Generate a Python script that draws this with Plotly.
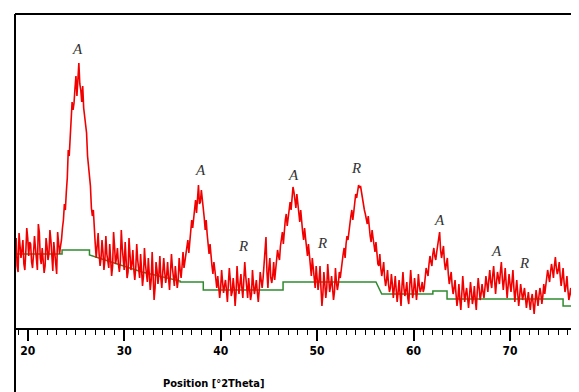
import plotly.graph_objects as go
import numpy as np

# XRD pattern (arbitrary intensity units), sampled every 0.1 deg 2Theta from 18.7
theta_start = 18.7
theta_step = 0.1
intensity = [
    82, 90, 62, 56, 95, 84, 70, 78, 88, 64, 58, 76, 100, 90, 72, 86, 84, 66, 60, 74, 92, 80, 66, 58, 104,
    96, 70, 64, 80, 68, 55, 62, 90, 82, 68, 74, 98, 88, 64, 57, 86, 76, 60, 54, 96, 86, 74, 82, 88,
    100,
    108, 124, 118, 136, 150, 178, 172, 190, 205, 226, 218, 225, 240, 252, 232, 248, 265, 244, 238, 226,
    242, 220, 212, 204, 195, 172, 160, 150, 142, 120, 112, 118, 96,
    84,
    70, 80, 95, 74, 62, 70, 88, 76, 58, 68, 92, 74, 66, 60, 84, 72, 52, 62, 96, 82, 64, 70, 80, 64, 56,
    66, 98, 80, 62, 58, 86, 68, 50, 56, 90, 74, 58, 64, 78, 58, 48, 60, 84, 68, 55, 50, 74, 60, 42, 52,
    80, 64, 50, 46, 70, 56, 38, 48, 76, 52, 28, 40, 66, 58, 44, 54, 72, 50, 40,
    56,
    70, 56, 45, 52, 66, 50, 38, 56, 74, 60, 48, 42, 62, 54, 40, 48, 70, 58, 50, 62, 76,
    60,
    66, 72, 78, 88, 75, 84, 96, 108, 100, 110, 118, 128, 115, 132, 143, 124, 126, 138, 130, 118, 110,
    98, 108, 94, 86, 74, 84, 70, 62, 54, 66, 58, 45,
    40,
    52, 44, 30, 40, 58, 46, 35, 42, 48, 38, 26, 44, 60, 48, 32, 36, 50, 40, 22, 36, 62, 46, 34, 44, 54,
    40, 30, 48, 66, 52, 36, 30, 50, 42, 28, 34, 58, 44, 34, 40, 48, 36, 26, 38, 56, 48, 40,
    50,
    62, 78, 91, 56, 40, 60, 70, 50, 45, 52, 66,
    48,
    56, 64, 78, 72, 68, 82, 92, 96, 84, 98, 108, 114, 102, 110, 122, 126, 118, 130, 141, 136, 126, 120,
    134, 124, 112, 106, 118, 104, 96, 88, 100, 90, 78, 72, 84, 74, 60, 52, 70, 58, 46, 40, 62,
    50,
    38, 48, 62, 40, 22, 34, 56, 44, 30, 40, 64, 50, 36, 42, 52, 40, 28, 36, 60, 46, 38, 44, 56,
    50,
    60, 66, 74, 80, 70, 84, 92, 88, 98, 104, 112, 118, 108, 116, 124, 134, 130, 138, 143, 140, 142, 136,
    128, 122, 118, 114, 110, 104, 112, 100, 92, 86, 98, 90, 80, 76, 86, 70, 64, 62, 74, 60, 52, 58, 66,
    50, 42, 48, 58, 44, 36, 40, 54,
    44,
    30, 40, 52, 38, 26, 36, 48, 34, 22, 42, 56, 40, 32, 38, 46, 30, 24, 42, 58, 44, 30, 36, 50, 40, 28,
    38, 54, 42, 36, 40, 46,
    36,
    40, 50, 60, 56, 52, 64, 72, 66, 62, 74, 80, 72, 68, 76, 84, 88, 96, 78, 70, 76, 82, 66, 58, 64, 70,
    54, 44, 50, 56, 42, 34,
    40,
    48, 34, 22, 30, 44, 28, 18, 34, 52, 38, 26, 34, 40, 30, 20, 32, 46, 36, 24, 30, 42, 28, 18, 36, 50,
    40, 28, 34, 44, 36, 30, 40, 52,
    44,
    36, 48, 58, 46, 40, 52, 62, 48, 34, 46, 56, 50, 44, 56, 66, 50, 38, 48, 60, 44, 30, 42, 54, 44, 36,
    46, 58, 40, 26, 38, 48, 34, 22, 32, 44, 36, 28, 34, 40, 30, 20,
    28,
    36, 26, 18, 28, 34, 24, 14, 26, 38, 30, 22, 32, 40, 34, 24, 32, 44,
    34,
    40, 50, 58, 52, 46, 56, 64, 58, 50, 62, 71, 60, 54, 58, 66, 52, 42, 50, 60, 46, 36, 42, 52, 38, 28,
    34,
    40, 30, 20, 26, 34, 22, 12, 18, 26,
]
assert len(intensity) == 585, len(intensity)
theta = np.round(theta_start + theta_step * np.arange(len(intensity)), 2)

# fitted background (step line)
bg_theta = [18.68, 23.56, 23.56, 26.4, 26.4, 31.85, 35.8, 35.8, 38.2, 38.2, 46.47, 46.47,
            56.1, 56.7, 62.0, 62.0, 63.47, 63.47, 75.5, 75.5, 77.2]
bg_value = [74, 74, 78, 78, 73, 56, 47, 46, 46, 38, 38, 46,
            46, 34, 34, 37, 37, 29, 29, 22, 22]

# phase labels (A = anatase, R = rutile)
label_text = ["A", "A", "R", "A", "R", "R", "A", "A", "R"]
label_theta = [25.21, 37.86, 42.35, 47.6, 50.5, 54.03, 62.65, 68.55, 71.45]
label_value = [279, 158, 82, 153, 85, 160, 108, 77, 65]

tick_vals = [20, 30, 40, 50, 60, 70]
tick_text = ["20", "30", "40", "50", "60", "70"]
axis_title = "Position [°2Theta]"

# page body has an 8 px margin, so the figure is sized/offset to compensate
W, H = 571, 384
ML, MT, MB = 7, 6, 64
PLOT_W, PLOT_H = W - ML, H - MT - MB

fig = go.Figure()
fig.add_trace(go.Scatter(x=bg_theta, y=bg_value, mode="lines",
                         line=dict(color="#2f8a2f", width=1.5), hoverinfo="skip"))
fig.add_trace(go.Scatter(x=theta, y=intensity, mode="lines",
                         line=dict(color="#f20000", width=1.6), hoverinfo="skip"))

for t, xv, yv in zip(label_text, label_theta, label_value):
    fig.add_annotation(x=xv, y=yv, text="<i>" + t + "</i>", showarrow=False,
                       font=dict(family="Liberation Serif, DejaVu Serif, serif",
                                 size=15, color="#333333"),
                       xanchor="center", yanchor="middle")

label_font = dict(family="Liberation Sans Narrow, DejaVu Sans Condensed, Arial Narrow, sans-serif",
                  size=12, color="black")

fig.add_annotation(xref="paper", yref="paper", x=(214 - 15) / PLOT_W, y=-(383 - 328) / PLOT_H,
                   text="<b>" + axis_title + "</b>", showarrow=False,
                   font=dict(family=label_font["family"], size=11, color="black"),
                   xanchor="center", yanchor="middle")

# frame lines: left and top
fig.add_shape(type="line", xref="paper", yref="paper", x0=0, x1=0, y0=1, y1=-(392 - 328) / PLOT_H,
              line=dict(color="black", width=2))
fig.add_shape(type="line", xref="paper", yref="paper", x0=0, x1=1.02, y0=1, y1=1,
              line=dict(color="black", width=2))

fig.update_layout(
    width=W, height=H,
    margin=dict(l=ML, r=0, t=MT, b=MB),
    paper_bgcolor="white", plot_bgcolor="white",
    showlegend=False,
    font=label_font,
)
fig.update_xaxes(
    range=[18.68, 77.15], showgrid=False, zeroline=False,
    showline=True, linecolor="black", linewidth=2,
    tickmode="array", tickvals=tick_vals,
    ticktext=["<b>" + s + "</b>" for s in tick_text],
    ticks="outside", ticklen=11, tickwidth=1.5, tickcolor="black",
    tickfont=label_font,
    minor=dict(dtick=1, tick0=0, ticks="outside", ticklen=5, tickwidth=1, tickcolor="black"),
)
fig.update_yaxes(range=[0, 314], visible=False)

fig.write_html("out.html")
